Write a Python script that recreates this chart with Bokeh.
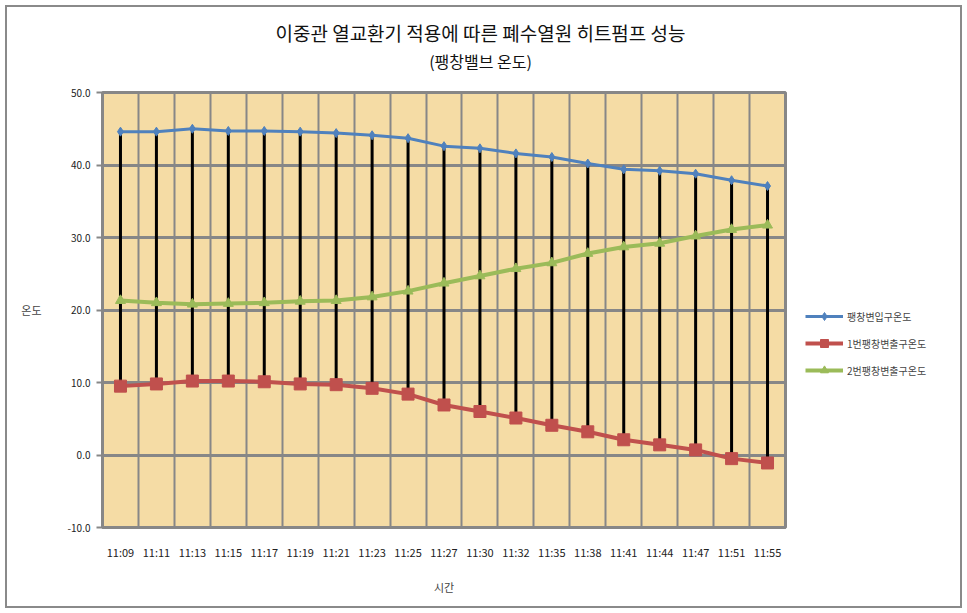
from bokeh.plotting import figure
from bokeh.layouts import row, column
from bokeh.models import (FactorRange, Range1d, FixedTicker, Legend, LegendItem, Label,
                          NumeralTickFormatter)
from bokeh.embed import file_html
from bokeh.resources import INLINE

times = ["11:09", "11:11", "11:13", "11:15", "11:17", "11:19", "11:21", "11:23", "11:25", "11:27",
         "11:30", "11:32", "11:35", "11:38", "11:41", "11:44", "11:47", "11:51", "11:55"]
inlet = [44.6, 44.6, 45.0, 44.7, 44.7, 44.6, 44.4, 44.1, 43.7, 42.6,
         42.3, 41.6, 41.1, 40.2, 39.4, 39.2, 38.8, 37.9, 37.1]
outlet1 = [9.5, 9.8, 10.2, 10.2, 10.1, 9.8, 9.7, 9.2, 8.4, 6.9,
           6.0, 5.1, 4.1, 3.2, 2.1, 1.4, 0.7, -0.5, -1.1]
outlet2 = [21.3, 21.0, 20.8, 20.9, 21.0, 21.2, 21.3, 21.8, 22.6, 23.7,
           24.7, 25.7, 26.5, 27.8, 28.7, 29.2, 30.2, 31.1, 31.7]
series_names = ["팽창변입구온도", "1번팽창변출구온도", "2번팽창변출구온도"]
y_ticks = [-10, 0, 10, 20, 30, 40, 50]
title_text = "이중관 열교환기 적용에 따른 폐수열원 히트펌프 성능"
subtitle_text = "(팽창밸브 온도)"

FONT = "Noto Sans CJK KR"
GRID = "#878787"

# ---- title strip ----
tf = figure(width=953, height=78, x_range=Range1d(0, 1), y_range=Range1d(0, 1),
            output_backend="svg", toolbar_location=None, x_axis_type=None, y_axis_type=None,
            min_border=0)
tf.outline_line_color = None
tf.xgrid.visible = False
tf.ygrid.visible = False
tf.background_fill_color = "white"
tf.border_fill_color = "white"
tf.add_layout(Label(x=473, y=53, x_units="screen", y_units="screen", text=title_text,
                    text_font=FONT, text_font_size="19px", text_align="center",
                    text_baseline="middle", text_color="#111111"))
tf.add_layout(Label(x=473, y=25, x_units="screen", y_units="screen", text=subtitle_text,
                    text_font=FONT, text_font_size="16px", text_align="center",
                    text_baseline="middle", text_color="#111111"))

# ---- main chart ----
p = figure(width=788, height=521, x_range=FactorRange(factors=times), y_range=Range1d(-10, 50),
           output_backend="svg", toolbar_location=None,
           min_border_left=95, min_border_right=10, min_border_top=7, min_border_bottom=79)
p.background_fill_color = "#F5DCA5"
p.border_fill_color = "white"
p.outline_line_color = GRID
p.outline_line_width = 3

p.ygrid.ticker = FixedTicker(ticks=y_ticks)
p.ygrid.grid_line_color = GRID
p.ygrid.grid_line_width = 3
p.xgrid.ticker = FixedTicker(ticks=list(range(len(times) + 1)))
p.xgrid.grid_line_color = GRID
p.xgrid.grid_line_width = 2

p.yaxis.ticker = FixedTicker(ticks=y_ticks)
p.yaxis.formatter = NumeralTickFormatter(format="0.0")
p.yaxis.axis_line_color = GRID
p.yaxis.axis_line_width = 3
p.yaxis.major_tick_line_color = GRID
p.yaxis.major_tick_line_width = 2
p.yaxis.major_tick_out = 6
p.yaxis.major_tick_in = 0
p.yaxis.minor_tick_line_color = None
p.yaxis.major_label_text_font = FONT
p.yaxis.major_label_text_font_size = "10px"
p.yaxis.major_label_text_color = "#222222"
p.yaxis.major_label_standoff = 6
p.yaxis.axis_label = "온도"
p.yaxis.axis_label_orientation = "normal"
p.yaxis.axis_label_text_font = FONT
p.yaxis.axis_label_text_font_size = "11px"
p.yaxis.axis_label_text_font_style = "normal"
p.yaxis.axis_label_standoff = 23

p.xaxis.axis_line_color = GRID
p.xaxis.axis_line_width = 3
p.xaxis.major_tick_line_color = None
p.xaxis.major_tick_out = 0
p.xaxis.major_label_text_font = FONT
p.xaxis.major_label_text_font_size = "11px"
p.xaxis.major_label_text_color = "#222222"
p.xaxis.major_label_standoff = 16
p.xaxis.axis_label = "시간"
p.xaxis.axis_label_text_font = FONT
p.xaxis.axis_label_text_font_size = "11px"
p.xaxis.axis_label_text_font_style = "normal"
p.xaxis.axis_label_standoff = 16

# high-low lines
p.segment(x0=times, y0=outlet1, x1=times, y1=inlet, line_color="black", line_width=3)

colors = ["#4F81BD", "#C0504D", "#9BBB59"]
markers = ["diamond", "square", "triangle"]
sizes = [9, 12, 10]
widths = [3, 4, 4]

# ---- legend panel ----
lg = figure(width=165, height=521, x_range=Range1d(0, 1), y_range=Range1d(0, 1),
            output_backend="svg", toolbar_location=None, x_axis_type=None, y_axis_type=None,
            min_border=0)
lg.outline_line_color = None
lg.xgrid.visible = False
lg.ygrid.visible = False
lg.background_fill_color = "white"
lg.border_fill_color = "white"

items = []
for name, vals, c, m, s, w in zip(series_names, [inlet, outlet1, outlet2], colors, markers, sizes, widths):
    p.line(times, vals, line_color=c, line_width=w)
    p.scatter(times, vals, marker=m, size=s, fill_color=c, line_color=c)
    # proxy renderers (outside the visible range) that only feed the legend
    l1 = lg.line(x=[5, 6], y=[5, 5], line_color=c, line_width=w)
    l2 = lg.scatter(x=[5], y=[5], marker=m, size=s, fill_color=c, line_color=c)
    items.append(LegendItem(label=name, renderers=[l1, l2]))

legend = Legend(items=items, location=(10, 147), background_fill_alpha=0, border_line_alpha=0,
                label_text_font=FONT, label_text_font_size="10px", glyph_width=38, glyph_height=20,
                spacing=7, padding=0, margin=0, label_standoff=4)
lg.add_layout(legend)

layout = column(tf, row(p, lg, spacing=0), spacing=0)
layout.styles = {"margin": "5px", "border": "2px solid #8a8a8a"}

open("out.html", "w").write(file_html(layout, INLINE))
